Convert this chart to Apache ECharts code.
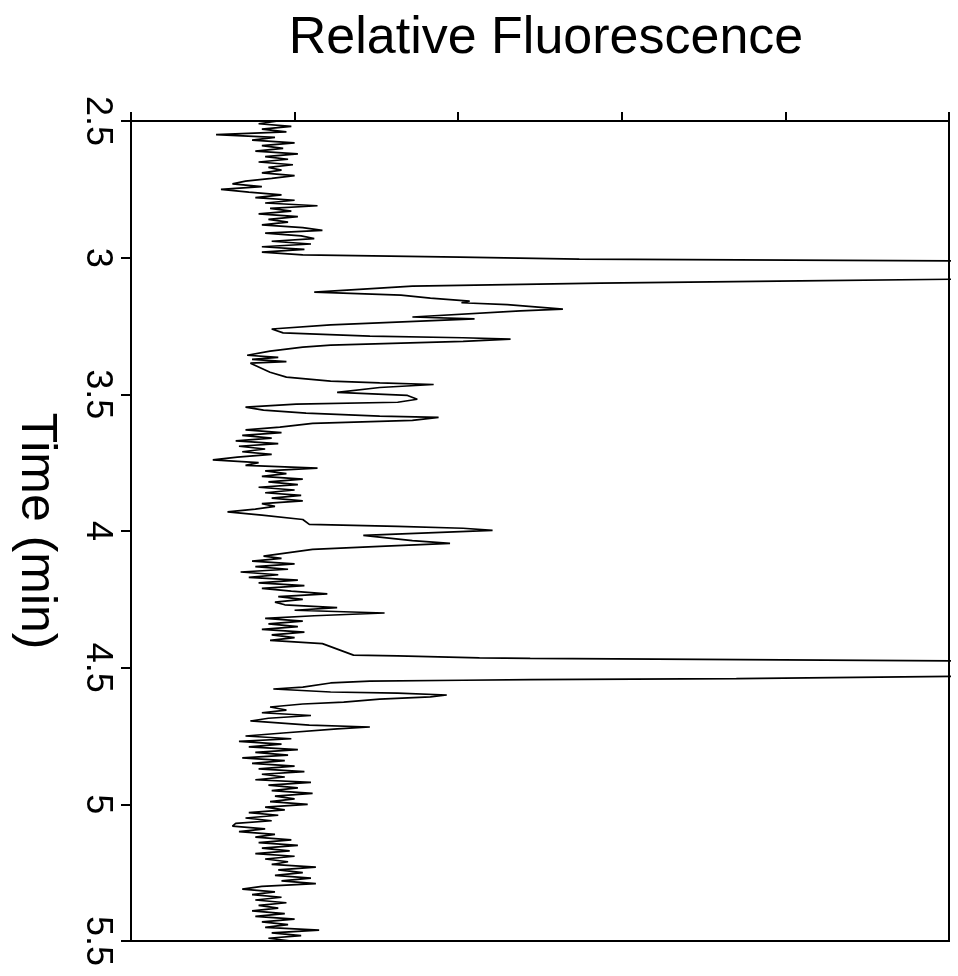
<!DOCTYPE html>
<html>
<head>
<meta charset="utf-8">
<script src="https://cdn.jsdelivr.net/npm/echarts@6/dist/echarts.min.js"></script>
<style>
html,body{margin:0;padding:0;background:#fff;}
#chart{width:958px;height:976px;}
</style>
</head>
<body>
<div id="chart"></div>
<script>
// Retention time (min) and relative fluorescence
var timeMin = [
2.50,2.51,2.52,2.53,2.54,2.55,2.56,2.57,2.58,2.59,
2.60,2.61,2.62,2.63,2.64,2.65,2.66,2.67,2.68,2.69,
2.70,2.71,2.72,2.73,2.74,2.75,2.76,2.77,2.78,2.79,
2.80,2.81,2.82,2.83,2.84,2.85,2.86,2.87,2.88,2.89,
2.90,2.91,2.92,2.93,2.94,2.95,2.96,2.97,2.98,
2.99,2.998,3.005,3.013,3.04,3.05,3.077,3.085,3.093,3.104,3.115,
3.126,3.137,3.148,3.159,3.165,3.172,3.188,3.195,3.217,3.224,3.246,3.261,
3.275,3.287,3.293,3.298,3.306,3.320,3.327,3.342,3.357,
3.365,3.372,3.380,3.386,3.419,3.437,3.452,3.458,3.464,
3.475,3.493,3.504,3.518,3.529,3.536,3.547,3.558,3.569,3.580,3.584,3.595,3.606,3.620,
3.63,3.64,3.65,3.66,3.67,3.68,3.69,3.70,3.71,3.72,
3.73,3.74,3.75,3.76,3.77,3.78,3.79,3.80,3.81,3.82,
3.83,3.84,3.85,3.86,3.87,3.88,3.89,3.90,3.91,3.92,3.93,3.942,
3.947,3.958,3.976,3.983,3.990,3.998,
4.016,4.035,4.045,4.056,4.067,4.092,
4.10,4.11,4.12,4.13,4.14,4.15,4.16,4.17,4.18,4.19,
4.20,4.21,4.22,4.23,4.24,4.25,4.26,4.27,4.28,4.29,
4.30,4.31,4.32,4.33,4.34,4.35,4.36,4.37,4.38,4.39,4.40,
4.412,4.454,4.457,4.464,4.466,4.476,4.50,4.51,4.530,
4.540,4.544,4.546,4.549,4.556,4.571,4.578,
4.589,4.593,4.600,4.607,4.615,4.626,4.633,4.644,
4.655,4.665,4.675,4.685,4.695,4.710,4.717,4.724,4.739,
4.75,4.76,4.77,4.78,4.79,4.80,4.81,4.82,4.83,4.84,
4.85,4.86,4.87,4.88,4.89,4.90,4.91,4.92,4.93,4.94,
4.95,4.96,4.97,4.98,4.99,5.00,5.01,5.02,5.03,5.04,
5.05,5.06,5.07,5.08,5.09,5.10,5.11,5.12,5.13,5.14,
5.15,5.16,5.17,5.18,5.19,5.20,5.21,5.22,5.23,5.24,
5.25,5.26,5.27,5.28,5.29,5.30,5.31,5.32,5.33,5.34,
5.35,5.36,5.37,5.38,5.39,5.40,5.41,5.42,5.43,5.44,
5.45,5.46,5.47,5.48,5.49,5.50
];
var fluorescence = [
0.90,0.78,0.98,0.80,0.95,0.52,0.88,0.74,1.00,0.80,
0.93,0.76,1.02,0.82,0.96,0.78,0.99,0.84,0.92,0.80,
1.00,0.86,0.70,0.62,0.80,0.55,0.72,0.92,0.76,1.00,
0.82,1.14,0.85,0.98,0.78,1.02,0.84,0.96,0.80,1.05,
1.17,0.82,1.04,1.12,0.86,1.10,0.80,1.06,0.80,
1.05,2.01,2.74,5.30,60,60,5.30,4.09,2.87,1.72,1.42,
1.12,1.65,1.83,2.07,2.02,2.30,2.64,2.38,1.72,2.10,1.22,0.86,
0.93,1.46,2.03,2.32,2.03,1.22,1.05,0.85,0.71,
0.90,0.74,0.95,0.73,0.85,0.95,1.22,1.52,1.85,
1.52,1.26,1.69,1.75,1.63,1.01,0.70,0.81,1.07,1.52,1.88,1.72,1.11,0.91,
0.70,0.92,0.68,0.86,0.64,0.90,0.66,0.82,0.68,0.86,
0.65,0.50,0.78,0.70,1.14,0.82,0.95,0.80,1.05,0.84,
1.02,0.78,1.00,0.82,1.04,0.86,1.05,0.80,0.88,0.76,0.59,0.80,
0.81,1.05,1.09,1.63,2.03,2.21,
1.42,1.72,1.95,1.52,1.11,0.81,
0.92,0.74,1.00,0.76,0.96,0.67,0.90,0.72,1.02,0.78,
1.06,0.80,0.98,1.20,0.90,1.05,0.88,0.94,1.26,1.00,
1.55,1.12,0.82,1.05,0.84,1.02,0.80,1.06,0.86,1.00,0.85,
1.17,1.36,1.63,2.13,2.44,5.30,60,60,5.30,
3.70,2.44,2.03,1.46,1.22,1.05,0.87,
1.22,1.63,1.93,1.83,1.52,1.30,1.05,0.85,
0.95,0.80,1.10,0.84,0.73,1.09,1.46,1.26,0.93,
0.70,0.98,0.66,0.92,0.72,1.02,0.76,0.96,0.68,0.94,
0.74,1.00,0.78,1.06,0.80,0.94,0.76,1.10,0.84,1.02,
0.86,1.11,0.88,1.00,0.85,1.08,0.82,0.94,0.72,0.90,
0.70,0.86,0.64,0.62,0.82,0.66,0.88,0.76,0.98,0.78,
1.02,0.80,0.97,0.76,1.00,0.82,0.96,0.86,1.13,0.90,
1.05,0.88,1.10,0.92,1.13,0.80,0.68,0.88,0.74,0.92,
0.76,0.95,0.78,0.90,0.74,0.94,0.76,1.00,0.80,0.96,
0.82,1.15,0.86,1.04,0.84,0.98
];
var timeTicks = [2.5, 3, 3.5, 4, 4.5, 5, 5.5];
var titleText = 'Relative Fluorescence';
var yName = 'Time (min)';

var seriesData = timeMin.map(function (t, i) { return [fluorescence[i], t]; });

var chart = echarts.init(document.getElementById('chart'), null, {renderer: 'canvas'});
var FONT = 'Liberation Sans, Arial, Helvetica, sans-serif';
chart.setOption({
  animation: false,
  backgroundColor: '#fff',
  title: {
    text: titleText,
    left: 541,
    top: 8,
    textAlign: 'center',
    textStyle: {fontSize: 52, fontWeight: 'normal', color: '#000', fontFamily: FONT}
  },
  grid: {
    left: 131, right: 9, top: 121, bottom: 35,
    containLabel: false, outerBoundsMode: 'none',
    show: true, borderColor: '#000', borderWidth: 2, backgroundColor: 'transparent'
  },
  xAxis: {
    type: 'value', position: 'top', min: 0, max: 5, interval: 1,
    axisLine: {show: true, lineStyle: {color: '#000', width: 2}},
    axisTick: {show: true, inside: false, length: 9, lineStyle: {color: '#000', width: 2}},
    axisLabel: {show: false},
    splitLine: {show: false}
  },
  yAxis: {
    type: 'value', inverse: true, min: timeTicks[0], max: timeTicks[timeTicks.length - 1], interval: 0.5,
    name: yName, nameLocation: 'middle', nameRotate: -90, nameGap: 70,
    nameTextStyle: {fontSize: 50, color: '#000', fontFamily: FONT},
    axisLine: {show: true, lineStyle: {color: '#000', width: 2}},
    axisTick: {show: true, inside: false, length: 10, lineStyle: {color: '#000', width: 2}},
    axisLabel: {show: true, rotate: -90, margin: 16, fontSize: 36, color: '#000', fontFamily: FONT},
    splitLine: {show: false}
  },
  series: [{
    type: 'line',
    data: seriesData,
    showSymbol: false,
    symbol: 'none',
    clip: true,
    lineStyle: {color: '#000', width: 1.7},
    emphasis: {disabled: true}
  }]
});
</script>
</body>
</html>
